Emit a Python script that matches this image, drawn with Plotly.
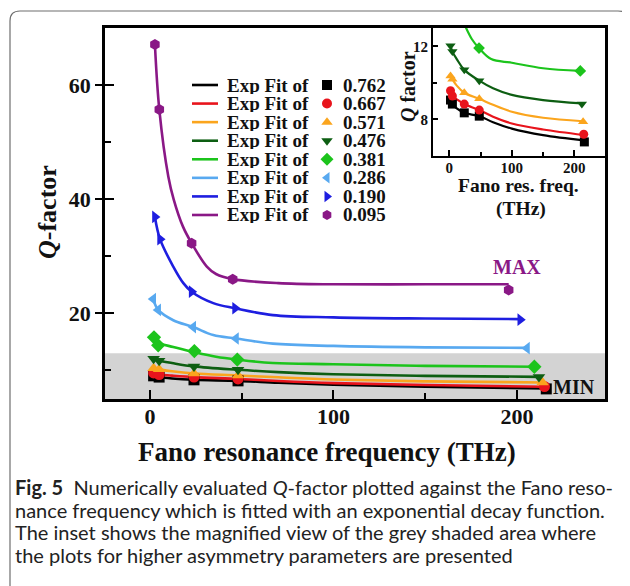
import plotly.graph_objects as go

# ---------------- data ----------------
asym_labels = ["0.762", "0.667", "0.571", "0.476", "0.381", "0.286", "0.190", "0.095"]

# measured points (x: Fano resonance frequency THz, y: Q-factor)
x_0762 = [2, 5, 24, 48, 216]
q_0762 = [9.06, 8.84, 8.36, 8.18, 6.77]
x_0667 = [2, 5, 24, 48, 215]
q_0667 = [9.57, 9.28, 8.84, 8.51, 7.19]
x_0571 = [2, 5, 24, 48, 214]
q_0571 = [10.38, 10.2, 9.46, 9.13, 7.87]
x_0476 = [2, 5, 24, 48, 212]
q_0476 = [12.03, 11.71, 10.71, 10.12, 8.84]
x_0381 = [2.2, 4.5, 24.2, 47.6, 209.5]
q_0381 = [15.8, 14.4, 13.4, 11.9, 10.65]
x_0286 = [1.8, 4.5, 23.6, 46.9, 205.5]
q_0286 = [22.5, 20.6, 17.6, 15.6, 13.9]
x_0190 = [2.7, 5.5, 22.7, 46.4, 201.8]
q_0190 = [36.9, 33.0, 23.8, 20.9, 18.9]
x_0095 = [2.7, 5.1, 22.7, 45.1, 195.5]
q_0095 = [67.1, 55.7, 32.3, 26.0, 24.1]

# exponential-fit curves
fx_0762 = [2, 5, 12, 24, 48, 70, 100, 150, 216]
fq_0762 = [9.06, 8.84, 8.6, 8.36, 8.18, 7.85, 7.5, 7.14, 6.85]
fx_0667 = [2, 5, 12, 24, 48, 70, 100, 150, 215]
fq_0667 = [9.57, 9.28, 9.1, 8.84, 8.51, 8.15, 7.78, 7.45, 7.15]
fx_0571 = [2, 5, 12, 24, 48, 70, 100, 150, 214]
fq_0571 = [10.38, 10.2, 9.85, 9.46, 9.13, 8.8, 8.42, 8.09, 7.9]
fx_0476 = [2, 5, 12, 24, 48, 70, 100, 150, 212]
fq_0476 = [12.03, 11.71, 11.3, 10.71, 10.12, 9.7, 9.34, 9.06, 8.88]
fx_0381 = [2.2, 4.5, 12.7, 24.2, 36, 47.6, 67, 100, 150, 209.5]
fq_0381 = [15.8, 14.9, 14.1, 13.2, 12.4, 11.9, 11.3, 11.1, 10.8, 10.65]
fx_0286 = [1.8, 4.5, 12.7, 23.6, 34.5, 46.9, 67, 100, 150, 205.5]
fq_0286 = [22.5, 20.6, 18.8, 17.6, 16.2, 15.6, 14.7, 14.3, 14.05, 13.95]
fx_0190 = [2.7, 5.5, 12.7, 18.2, 22.7, 34.5, 46.4, 67, 100, 150, 201.8]
fq_0190 = [36.9, 33.0, 28.2, 25.3, 23.8, 21.8, 20.9, 19.7, 19.3, 19.1, 19.0]
fx_0095 = [2.7, 5.1, 10, 13, 18, 22.7, 31, 36, 45.1, 70, 100, 150, 195.5]
fq_0095 = [67.1, 55.7, 44, 39.9, 35.2, 32.3, 28.2, 26.9, 26.0, 25.3, 25.1, 25.1, 25.1]

main_xticks = [0, 100, 200]
main_yticks = [20, 40, 60]
inset_xticks = [0, 100, 200]
inset_yticks = [8, 12]

caption_lines = [
    "<b>Fig. 5</b>\u00a0\u00a0Numerically evaluated <i>Q</i>-factor plotted against the Fano reso-",
    "nance frequency which is fitted with an exponential decay function.",
    "The inset shows the magnified view of the grey shaded area where",
    "the plots for higher asymmetry parameters are presented",
]

# ---------------- styling ----------------
colors = ["#000000", "#e8141c", "#fba51d", "#0d5e12", "#1cc41c", "#58a9f0", "#1e1ee0", "#8a1886"]
symbols = ["square", "circle", "triangle-up", "triangle-down", "diamond",
           "triangle-left", "triangle-right", "hexagon"]

pts_x = [x_0762, x_0667, x_0571, x_0476, x_0381, x_0286, x_0190, x_0095]
pts_q = [q_0762, q_0667, q_0571, q_0476, q_0381, q_0286, q_0190, q_0095]
fit_x = [fx_0762, fx_0667, fx_0571, fx_0476, fx_0381, fx_0286, fx_0190, fx_0095]
fit_q = [fq_0762, fq_0667, fq_0571, fq_0476, fq_0381, fq_0286, fq_0190, fq_0095]

# the page body has an 8px margin; lay the figure out in window pixels
OFF = 8
W, H = 630 - OFF, 586 - OFF
LEFT, RIGHT, TOP, BOTTOM = 105, 605, 28, 399   # main frame in window pixels
ML = LEFT - OFF
MT = TOP - OFF
PW = RIGHT - LEFT
PH = BOTTOM - TOP
MR = W - ML - PW
MB = H - MT - PH


def px(x):
    return (x - LEFT) / PW


def py(y):
    return (BOTTOM - y) / PH


SERIF = "Liberation Serif, Times New Roman, serif"

fig = go.Figure()

# main fit lines
for i in range(8):
    fig.add_trace(go.Scatter(x=fit_x[i], y=fit_q[i], mode="lines", line_shape="spline",
                             line=dict(color=colors[i], width=2.6), showlegend=False,
                             xaxis="x", yaxis="y"))
for i in range(8):
    fig.add_trace(go.Scatter(x=pts_x[i], y=pts_q[i], mode="markers",
                             marker=dict(symbol=symbols[i], color=colors[i], size=11, line=dict(width=0)),
                             showlegend=False, xaxis="x", yaxis="y"))

# inset
for i in range(8):
    fig.add_trace(go.Scatter(x=fit_x[i], y=fit_q[i], mode="lines", line_shape="spline",
                             line=dict(color=colors[i], width=2.2), showlegend=False,
                             xaxis="x2", yaxis="y2"))
for i in range(8):
    fig.add_trace(go.Scatter(x=pts_x[i], y=pts_q[i], mode="markers", cliponaxis=True,
                             marker=dict(symbol=symbols[i], color=colors[i], size=9, line=dict(width=0)),
                             showlegend=False, xaxis="x2", yaxis="y2"))

# custom legend: line sample, "Exp Fit of", marker, value
row0, rstep = 85, 18.57
leg_y = [py(row0 + k * rstep) for k in range(8)]
fig.add_trace(go.Scatter(x=[px(327)] * 8, y=leg_y, mode="markers",
                         marker=dict(symbol=symbols, color=colors, size=10, line=dict(width=0)),
                         showlegend=False, xaxis="x3", yaxis="y3", cliponaxis=False))
# dummy trace for the inner half of the crossing y ticks
fig.add_trace(go.Scatter(x=[None], y=[None], xaxis="x", yaxis="y4", showlegend=False))

shapes = []
annotations = []
shapes.append(dict(type="rect", xref="paper", yref="y", x0=0, x1=1, y0=5, y1=13,
                   fillcolor="#d3d3d3", line=dict(width=0), layer="below"))
for k in range(8):
    shapes.append(dict(type="line", xref="paper", yref="paper", x0=px(192), x1=px(218),
                       y0=leg_y[k], y1=leg_y[k], line=dict(color=colors[k], width=2.6)))
    annotations.append(dict(text="<b>Exp Fit of</b>", xref="paper", yref="paper", x=px(225), y=leg_y[k],
                            xanchor="left", yanchor="middle", showarrow=False, height=17,
                            font=dict(family=SERIF, size=19, color="#111")))
    annotations.append(dict(text="<b>" + asym_labels[k] + "</b>", xref="paper", yref="paper", x=px(341),
                            y=leg_y[k], xanchor="left", yanchor="middle", showarrow=False, height=17,
                            font=dict(family=SERIF, size=19, color="#111")))

# card border
r = 10
path = (f"M {px(10)},{py(600)} L {px(10)},{py(11 + r)} "
        f"Q {px(10)},{py(11)} {px(10 + r)},{py(11)} "
        f"L {px(618)},{py(11)} Q {px(627)},{py(11)} {px(628)},{py(17)}")
shapes.append(dict(type="path", xref="paper", yref="paper", path=path,
                   line=dict(color="#6e6e6e", width=1.2)))

# titles and labels
annotations += [
    dict(text="<b>Fano resonance frequency (THz)</b>", xref="paper", yref="paper",
         x=px(327), y=py(452), xanchor="center", yanchor="middle", showarrow=False,
         font=dict(family=SERIF, size=27, color="#111")),
    dict(text="<b><i>Q</i>-factor</b>", xref="paper", yref="paper", textangle=-90,
         x=px(47), y=py(212), xanchor="center", yanchor="middle", showarrow=False,
         font=dict(family=SERIF, size=26, color="#111")),
    dict(text="<b><i>Q</i> factor</b>", xref="paper", yref="paper", textangle=-90,
         x=px(408), y=py(87), xanchor="center", yanchor="middle", showarrow=False,
         font=dict(family=SERIF, size=20, color="#111")),
    dict(text="<b>Fano res. freq.</b>", xref="paper", yref="paper",
         x=px(518), y=py(185), xanchor="center", yanchor="middle", showarrow=False,
         font=dict(family=SERIF, size=19.5, color="#111")),
    dict(text="<b>(THz)</b>", xref="paper", yref="paper",
         x=px(521), y=py(209), xanchor="center", yanchor="middle", showarrow=False,
         font=dict(family=SERIF, size=19.5, color="#111")),
    dict(text="<b>MAX</b>", xref="paper", yref="paper",
         x=px(517), y=py(267), xanchor="center", yanchor="middle", showarrow=False,
         font=dict(family=SERIF, size=20, color=colors[7])),
    dict(text="<b>MIN</b>", xref="paper", yref="paper",
         x=px(574), y=py(387), xanchor="center", yanchor="middle", showarrow=False,
         font=dict(family=SERIF, size=20, color="#111")),
]
cap_y = [487, 510, 532, 555]
for line, yy in zip(caption_lines, cap_y):
    annotations.append(dict(text=line, xref="paper", yref="paper", x=px(13), y=py(yy),
                            xanchor="left", yanchor="middle", showarrow=False,
                            font=dict(family="Lato, Noto Sans, sans-serif", size=20, color="#222")))

axis_common = dict(showgrid=False, zeroline=False, showline=True, linecolor="black", mirror=True)
tickfont_main = dict(family=SERIF, size=22, color="#111", weight="bold")
tickfont_inset = dict(family=SERIF, size=15, color="#111", weight="bold")

fig.update_layout(
    width=W, height=H,
    margin=dict(l=ML, r=MR, t=MT, b=MB, pad=0),
    paper_bgcolor="white", plot_bgcolor="white",
    showlegend=False,
    shapes=shapes, annotations=annotations,
    xaxis=dict(domain=[0, 1], range=[-24.5, 248], tickvals=main_xticks, ticks="inside",
               ticklen=9, tickwidth=2, tickcolor="black", linewidth=2.5, tickfont=tickfont_main,
               ticklabelstandoff=-4,
               minor=dict(tickvals=[50, 150], ticks="inside", ticklen=6, tickwidth=2, tickcolor="black"),
               anchor="y", **axis_common),
    yaxis=dict(domain=[0, 1], range=[5, 70], tickvals=main_yticks, ticks="outside",
               ticklen=7, tickwidth=2, tickcolor="black", linewidth=2.5, tickfont=tickfont_main,
               minor=dict(tickvals=[10, 30, 50], ticks="inside", ticklen=6, tickwidth=2, tickcolor="black"),
               anchor="x", **axis_common),
    yaxis4=dict(overlaying="y", anchor="x", side="left", range=[5, 70], tickvals=main_yticks,
                ticks="inside", ticklen=9, tickwidth=2, tickcolor="black", showticklabels=False,
                showgrid=False, zeroline=False, showline=False),
    xaxis2=dict(domain=[px(433), 1], range=[-26, 249], tickvals=inset_xticks, ticks="inside",
                ticklen=6, tickwidth=1.5, tickcolor="black", linewidth=2, tickfont=tickfont_inset,
                ticklabelstandoff=-3,
                minor=dict(tickvals=[50, 150], ticks="inside", ticklen=4, tickwidth=1.5, tickcolor="black"),
                anchor="y2", **axis_common),
    yaxis2=dict(domain=[py(156), 1], range=[6, 13], tickvals=inset_yticks, ticks="inside",
                ticklen=5, tickwidth=1.5, tickcolor="black", linewidth=2, tickfont=tickfont_inset,
                minor=dict(tickvals=[10], ticks="inside", ticklen=4, tickwidth=1.5, tickcolor="black"),
                anchor="x2", **axis_common),
    xaxis3=dict(domain=[0, 1], range=[0, 1], visible=False, anchor="y3", overlaying="x"),
    yaxis3=dict(domain=[0, 1], range=[0, 1], visible=False, anchor="x3", overlaying="y"),
)

fig.write_html("out.html")
